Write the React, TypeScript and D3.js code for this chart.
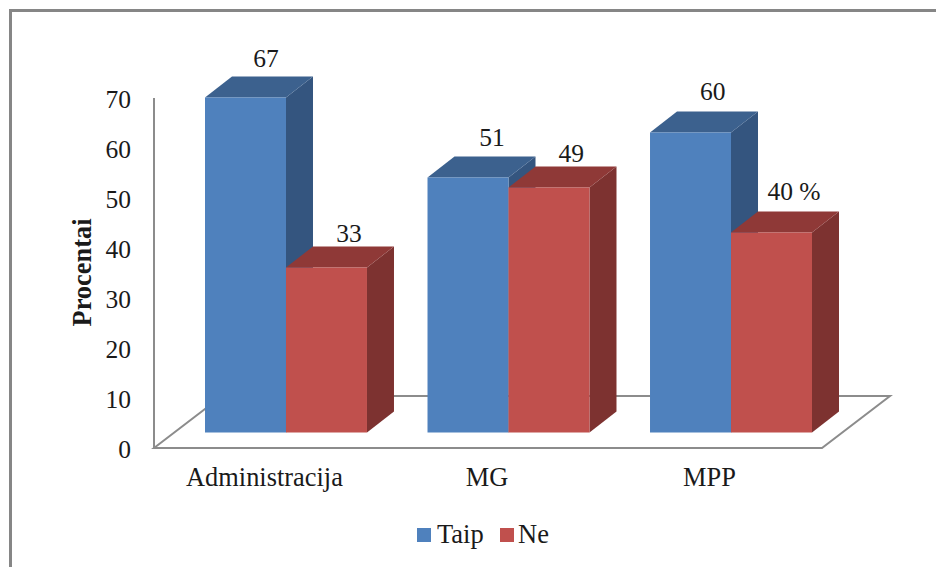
import React from "react";
import * as d3 from "d3";

const categories = ["Administracija", "MG", "MPP"];
const seriesNames = ["Taip", "Ne"];
const taipValues = [67, 51, 60];
const neValues = [33, 49, 40];
const seriesValues = [taipValues, neValues];
const valueLabels = [["67", "51", "60"], ["33", "49", "40 %"]];
const yTicks = [0, 10, 20, 30, 40, 50, 60, 70];

const faceColors = ["#4f81bd", "#c0504d"];
const topColors = ["#3c618e", "#8f3937"];
const sideColors = ["#34557f", "#7d3230"];
const axisColor = "#8c8c8c";
const serif = "'Liberation Serif', 'Times New Roman', serif";
const textColor = "#1a1a1a";

const W = 936;
const H = 567;
const depthX = 27;
const depthY = -21;
const floorDepthX = 68;
const floorDepthY = -52;
const floorLift = 15.5;

// Data labels were placed by hand in the chart, so each keeps its own nudge.
const labelGaps = [[10, 10.5, 12], [5, 5, 12]];
const labelShifts = [[7, 10.5, 8.7], [9, 8.7, 9]];

// Value axis sits on the front floor edge; columns stand further back on the floor.
const yAxis = d3.scaleLinear().domain([0, 70]).range([448, 98]);
const height = (v: number) => yAxis(0) - yAxis(v);
const baseY = yAxis(0) - floorLift;

const xGroup = d3.scaleBand<string>().domain(categories).range([205, 812]).paddingInner(0.272);
const xSeries = d3.scaleBand<string>().domain(seriesNames).range([0, xGroup.bandwidth()]);

const poly = (pts: [number, number][]) => d3.line()(pts) + "Z";

function Column({ x, w, v, s }: { x: number; w: number; v: number; s: number }) {
  const top = baseY - height(v);
  return (
    <g>
      <path
        d={poly([[x + w, top], [x + w + depthX, top + depthY], [x + w + depthX, baseY + depthY], [x + w, baseY]])}
        fill={sideColors[s]}
      />
      <path
        d={poly([[x, top], [x + depthX, top + depthY], [x + w + depthX, top + depthY], [x + w, top]])}
        fill={topColors[s]}
      />
      <rect x={x} y={top} width={w} height={baseY - top} fill={faceColors[s]} />
    </g>
  );
}

export default function App() {
  const floorX0 = 154;
  const floorX1 = 822;
  const floorBack = yAxis(0) + floorDepthY;
  const w = xSeries.bandwidth();
  return (
    <svg
      width={W}
      height={H}
      viewBox={`0 0 ${W} ${H}`}
      style={{ position: "fixed", left: 0, top: 0, background: "#fff", display: "block" }}
    >
      <rect width={W} height={H} fill="#fff" />
      {/* chart border, open towards the right and bottom edges */}
      <path d={`M10.5,${H}V10.5H${W}`} fill="none" stroke="#868686" strokeWidth={3} />

      {/* value axis and floor */}
      <path d={`M154,${yAxis(70)}V${yAxis(0)}`} stroke={axisColor} strokeWidth={2} fill="none" />
      <path
        d={poly([
          [floorX0, yAxis(0)],
          [floorX0 + floorDepthX, floorBack],
          [floorX1 + floorDepthX, floorBack],
          [floorX1, yAxis(0)],
        ])}
        fill="none"
        stroke={axisColor}
        strokeWidth={2}
      />

      {yTicks.map((t) => (
        <text
          key={t}
          x={131}
          y={yAxis(t) + 10}
          textAnchor="end"
          fontFamily={serif}
          fontSize={25.5}
          fill={textColor}
        >
          {t}
        </text>
      ))}
      <text
        transform="translate(90.5,272.5) rotate(-90)"
        textAnchor="middle"
        fontFamily={serif}
        fontSize={26.4}
        fontWeight="bold"
        fill={textColor}
      >
        Procentai
      </text>

      {categories.map((c, i) => (
        <g key={c}>
          {seriesNames.map((name, s) => (
            <Column
              key={name}
              x={(xGroup(c) as number) + (xSeries(name) as number)}
              w={w}
              v={seriesValues[s][i]}
              s={s}
            />
          ))}
        </g>
      ))}

      {categories.map((c, i) =>
        seriesNames.map((name, s) => {
          const x = (xGroup(c) as number) + (xSeries(name) as number);
          return (
            <text
              key={c + name}
              x={x + w / 2 + depthX / 2 + labelShifts[s][i]}
              y={baseY - height(seriesValues[s][i]) + depthY - labelGaps[s][i]}
              textAnchor="middle"
              fontFamily={serif}
              fontSize={25.5}
              fill={textColor}
            >
              {valueLabels[s][i]}
            </text>
          );
        })
      )}

      {categories.map((c) => (
        <text
          key={c}
          x={(xGroup(c) as number) + xGroup.bandwidth() / 2 - 21.5}
          y={485.5}
          textAnchor="middle"
          fontFamily={serif}
          fontSize={26.4}
          fill={textColor}
        >
          {c}
        </text>
      ))}

      {/* legend */}
      {seriesNames.map((name, s) => {
        const lx = [417, 500][s];
        const tx = [437, 518][s];
        return (
          <g key={name}>
            <rect x={lx} y={528} width={14} height={14} fill={faceColors[s]} />
            <text x={tx} y={543} fontFamily={serif} fontSize={26.5} fill={textColor}>
              {name}
            </text>
          </g>
        );
      })}
    </svg>
  );
}
